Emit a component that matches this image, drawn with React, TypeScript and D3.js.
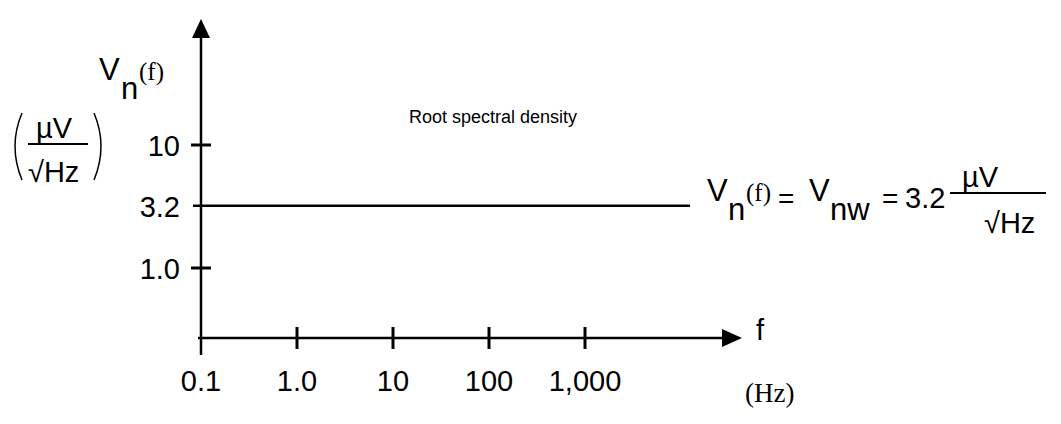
import * as d3 from "d3";

const xTicks = [0.1, 1, 10, 100, 1000];
const xTickLabels = ["0.1", "1.0", "10", "100", "1,000"];
const yTicks = [10, 1];
const yTickLabels = ["10", "1.0"];
const whiteLevel = 3.2;
const whiteLevelLabel = "3.2";
const title = "Root spectral density";

const font = "Liberation Sans, Arial, sans-serif";
const serif = "Liberation Serif, Times New Roman, serif";

export default function App() {
  const x = d3.scaleLog().domain([0.1, 1000]).range([201, 585]);
  const y = d3.scaleLog().domain([1, 10]).range([268, 145]);
  const x0 = x(0.1);
  const yAxisY = 338;

  return (
    <svg width={1061} height={424} style={{ position: "absolute", left: 0, top: 0, background: "#fff" }}>
      <g stroke="#000" strokeWidth={2.5} fill="none">
        <line x1={x0} y1={355} x2={x0} y2={34} />
        <line x1={198} y1={yAxisY} x2={726} y2={yAxisY} />
        <line x1={193} y1={y(whiteLevel)} x2={690} y2={y(whiteLevel)} />
        {xTicks.slice(1).map((t) => (
          <line key={t} x1={x(t)} x2={x(t)} y1={327} y2={349} strokeWidth={3} />
        ))}
        {yTicks.map((t) => (
          <line key={t} x1={191} x2={211} y1={y(t)} y2={y(t)} strokeWidth={3} />
        ))}
        {/* big parentheses */}
        <path d="M22,113 Q8,146 22,180" strokeWidth={1.5} />
        <path d="M94,113 Q108,146 94,180" strokeWidth={1.5} />
        <line x1={28} x2={88} y1={144} y2={144} strokeWidth={2} />
        <line x1={950} x2={1046} y1={193} y2={193} strokeWidth={2} />
      </g>
      <path d={`M${x0},19 L${x0 - 9},38 L${x0 + 9},38 Z`} fill="#000" />
      <path d={`M742,${yAxisY} L722,${yAxisY - 9} L722,${yAxisY + 9} Z`} fill="#000" />

      <g fontFamily={font} fontSize={29} fill="#000">
        {xTicks.map((t, i) => (
          <text key={t} x={x(t)} y={391} textAnchor="middle">{xTickLabels[i]}</text>
        ))}
        {yTicks.map((t, i) => (
          <text key={t} x={180} y={y(t) + 11} textAnchor="end">{yTickLabels[i]}</text>
        ))}
        <text x={180} y={y(whiteLevel) + 11} textAnchor="end">{whiteLevelLabel}</text>
        <text x={756} y={340}>f</text>
        <text x={745} y={402} fontFamily={serif} fontSize={27}>(Hz)</text>
        <text x={409} y={123} fontSize={18}>{title}</text>

        {/* y axis label */}
        <text x={99} y={80} fontSize={31}>V</text>
        <text x={121} y={99} fontSize={31}>n</text>
        <text x={139} y={80} fontSize={25} fontFamily={serif}>(f)</text>
        <text x={36} y={138} fontSize={29}>µV</text>
        <text x={28} y={182} fontSize={29}>√Hz</text>

        {/* formula */}
        <text x={707} y={201} fontSize={31}>V</text>
        <text x={728} y={220} fontSize={31}>n</text>
        <text x={746} y={201} fontSize={25} fontFamily={serif}>(f)</text>
        <text x={778} y={208} fontSize={28}>=</text>
        <text x={809} y={201} fontSize={31}>V</text>
        <text x={830} y={220} fontSize={31}>nw</text>
        <text x={882} y={208} fontSize={28}>=</text>
        <text x={905} y={208} fontSize={29}>3.2</text>
        <text x={962} y={187} fontSize={29}>µV</text>
        <text x={984} y={233} fontSize={29}>√Hz</text>
      </g>
    </svg>
  );
}
